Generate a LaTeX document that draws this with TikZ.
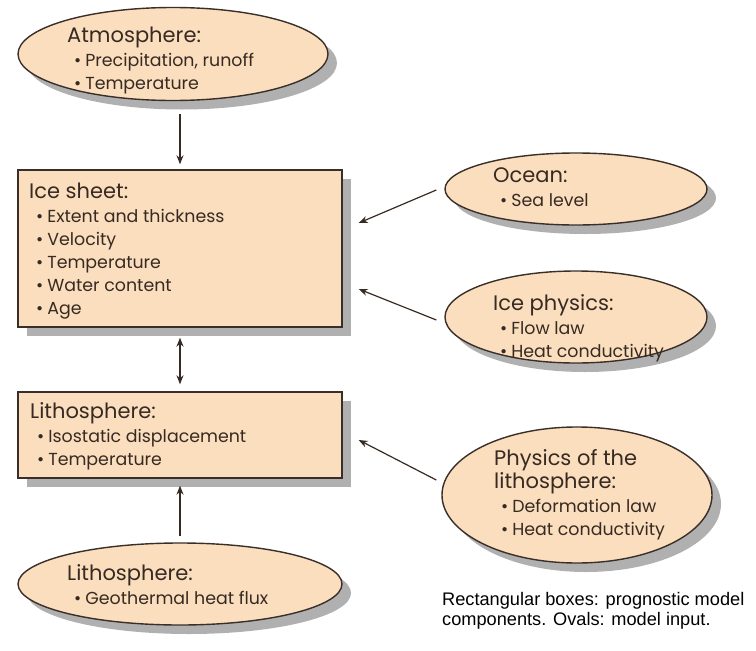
\documentclass[tikz,border=0pt]{standalone}
\usepackage{fontspec}
\setmainfont{Poppins}
\newfontfamily\legendfont{Liberation Sans}
\usetikzlibrary{shapes.geometric,shadows,arrows.meta,calc}
\definecolor{peach}{RGB}{250,222,190}
\definecolor{edge}{RGB}{58,46,40}
\definecolor{ink}{RGB}{55,42,35}
\definecolor{shade}{RGB}{150,150,150}
\newcommand{\titlef}{\fontsize{21}{24}\selectfont}
\newcommand{\itemf}{\fontsize{17.4}{23}\selectfont}
\newcommand{\blk}[2]{\vtop{\baselineskip=23pt\lineskiplimit=-30pt\hbox{\titlef #1}\vskip1pt\itemf #2}}
\newcommand{\itm}[1]{\hbox{\hspace*{7pt}\textbullet\hspace{4pt}#1}}
\begin{document}
\begin{tikzpicture}[x=1pt,y=-1pt,
  shp/.style={draw=edge, line width=1.4pt, fill=peach, inner sep=0pt,
    drop shadow={shadow xshift=9pt, shadow yshift=-9pt, fill=shade, opacity=0.75}},
  box/.style={shp, rectangle, minimum width=324pt},
  oval/.style={shp, ellipse},
  txt/.style={anchor=base west, inner sep=0pt, text=ink},
  arr/.style={draw=ink, line width=1.2pt, -{Stealth[length=9pt,width=7pt]}},
  darr/.style={draw=ink, line width=1.2pt, {Stealth[length=9pt,width=7pt]}-{Stealth[length=9pt,width=7pt]}}]
\useasboundingbox (0,0) rectangle (756,651);
% shapes
\node[oval, minimum width=310pt, minimum height=93pt] (atm) at (173,54) {};
\node[box, minimum height=157pt] (ice) at (180,248.5) {};
\node[box, minimum height=86pt] (lith) at (180,435) {};
\node[oval, minimum width=324pt, minimum height=82pt] (geo) at (180,584) {};
\node[oval, minimum width=262pt, minimum height=72pt] (ocean) at (576,189) {};
\node[oval, minimum width=262pt, minimum height=92pt] (iphys) at (576,317) {};
\node[oval, minimum width=270pt, minimum height=136pt] (lphys) at (577,495) {};
% texts
\node[txt] (atmt) at (67,42) {\blk{Atmosphere:}{\itm{Precipitation, runoff}\itm{Temperature}}};
\node[txt] (icet) at (29,198) {\blk{Ice sheet:}{\itm{Extent and thickness}\itm{Velocity}\itm{Temperature}\itm{Water content}\itm{Age}}};
\node[txt] (litht) at (30,418) {\blk{Lithosphere:}{\itm{Isostatic displacement}\itm{Temperature}}};
\node[txt] (geot) at (67,580) {\blk{Lithosphere:}{\itm{Geothermal heat flux}}};
\node[txt] (oceant) at (493,182) {\blk{Ocean:}{\itm{Sea level}}};
\node[txt] (iphyst) at (493,310) {\blk{Ice physics:}{\itm{Flow law}\itm{Heat conductivity}}};
\node[txt] (lphyst) at (494,465) {\vtop{\baselineskip=23pt\lineskiplimit=-30pt\hbox{\titlef Physics of the}\hbox{\titlef lithosphere:}\vskip1pt\itemf\itm{Deformation law}\itm{Heat conductivity}}};
\node[anchor=base west, inner sep=0pt, align=left, font=\legendfont\fontsize{18.2}{20}\selectfont] (legend) at (442,625)
  {Rectangular boxes: prognostic model\\components. Ovals: model input.};
% connectors
\draw[arr, shorten <=13pt, shorten >=5pt] (atm.south -| ice.north) -- (ice.north);
\draw[darr, shorten <=10pt, shorten >=7pt] (ice.south) -- (lith.north);
\draw[arr, shorten <=6pt, shorten >=7pt] (geo.north) -- (lith.south);
\draw[arr] ($(ocean.west)+(-8,1)$) -- ($(ice.east)+(16,-25.5)$);
\draw[arr] ($(iphys.west)+(-8,3)$) -- ($(ice.east)+(16,40.5)$);
\draw[arr] ($(lphys.west)+(-5,-15)$) -- ($(lith.east)+(16,5)$);
\end{tikzpicture}
\end{document}
